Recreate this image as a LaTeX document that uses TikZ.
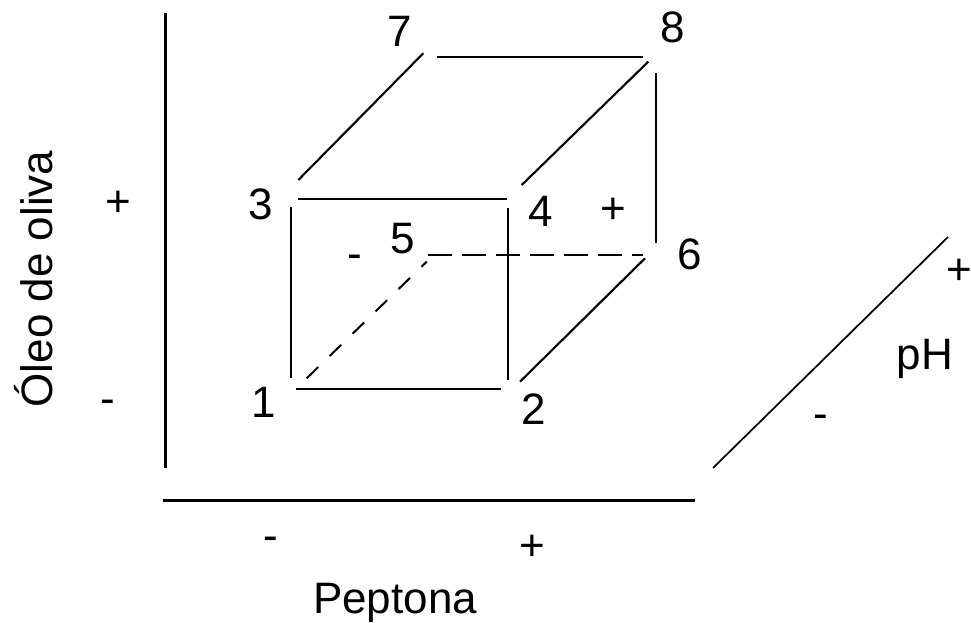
\documentclass[tikz,border=0pt]{standalone}
\usepackage{fontspec}
\setmainfont{Liberation Sans}
\begin{document}
\begin{tikzpicture}[x=0.75pt,y=-0.75pt,
  lbl/.style={anchor=base,inner sep=0pt,font=\fontsize{33}{40}\selectfont},
  edge/.style={line width=1.6pt},
  axisline/.style={line width=2.25pt},
  hidh/.style={line width=1.5pt,dash pattern=on 18pt off 7.5pt},
  hidd/.style={line width=1.5pt,dash pattern=on 12pt off 12pt},
  phline/.style={line width=1.3pt}]
\useasboundingbox[fill=white] (0,0) rectangle (971,623);
% axes
\coordinate (vtop) at (165.5,13);
\coordinate (vbot) at (165.5,468);
\coordinate (hl) at (163,500.5);
\coordinate (hr) at (695,500.5);
\draw[axisline] (vtop) -- (vbot);
\draw[axisline] (hl) -- (hr);
\coordinate (pa) at (713,468);
\coordinate (pb) at (948,237);
\draw[phline] (pa) -- (pb);
% cube edges
\draw[edge] (298,199) -- (507,199);   % 3-4
\draw[edge] (291,207) -- (291,378);   % 3-1
\draw[edge] (296,389) -- (501,389);   % 1-2
\draw[edge] (508,208) -- (508,380);   % 4-2
\draw[edge] (437,57) -- (643,57);     % 7-8
\draw[edge] (656,73) -- (656,243);    % 8-6
\draw[edge] (298.3,180) -- (423.3,53.3);   % 3-7
\draw[edge] (521.7,185) -- (648.3,61.7);   % 4-8
\draw[edge] (520,381.7) -- (645,258.3);    % 2-6
\draw[hidh] (428.3,255) -- (643.3,255);    % 5-6
\draw[hidd] (306.7,378.3) -- (426.7,261.7);% 1-5
% vertex labels
\node[lbl] (n7) at (400,47) {7};
\node[lbl] (n8) at (673,43) {8};
\node[lbl] (n3) at (261,220) {3};
\node[lbl] (n4) at (541,227) {4};
\node[lbl] (n5) at (403,254) {5};
\node[lbl] (n6) at (690,270) {6};
\node[lbl] (n1) at (264,417) {1};
\node[lbl] (n2) at (534,425) {2};
% signs
\node[lbl] (pz) at (613,224) {+};
\node[lbl] (mz) at (355,269) {-};
\node[lbl] (py) at (118,217) {+};
\node[lbl] (my) at (108,414) {-};
\node[lbl] (mx) at (271,550) {-};
\node[lbl] (px) at (532,560) {+};
\node[lbl] (mph) at (821,429) {-};
\node[lbl] (pph) at (959,285) {+};
% axis titles
\node[lbl] (tph) at (925,370) {pH};
\node[lbl] (tpep) at (395,613) {Peptona};
\node[lbl,rotate=90] (toleo) at (52,279) {Óleo de oliva};
\end{tikzpicture}
\end{document}
